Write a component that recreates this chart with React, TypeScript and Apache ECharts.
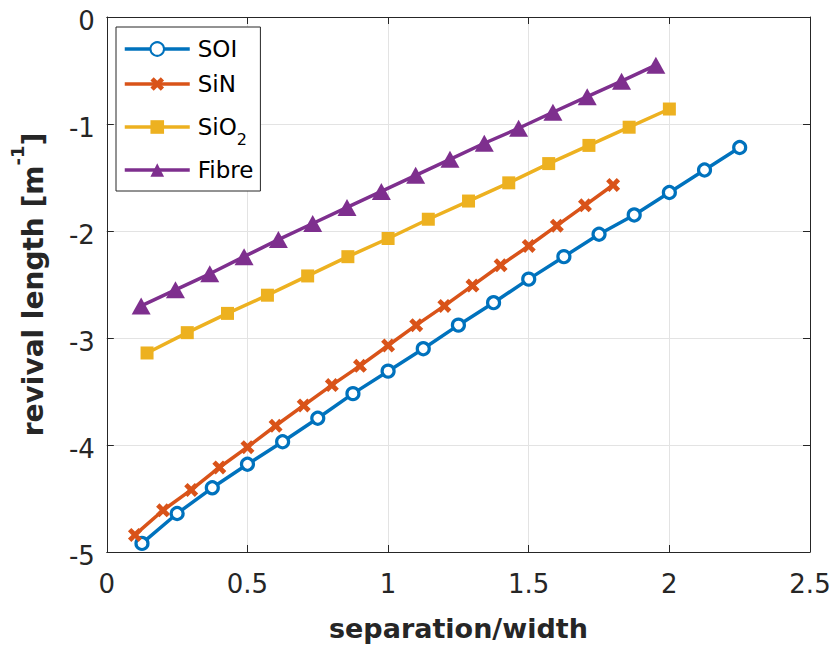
import React, { useEffect, useRef } from 'react';
import * as echarts from 'echarts';

const SOI_X = [0.125, 0.25, 0.375, 0.5, 0.625, 0.75, 0.875, 1.0, 1.125, 1.25, 1.375, 1.5, 1.625, 1.75, 1.875, 2.0, 2.125, 2.25];
const SOI_Y = [-4.92, -4.64, -4.4, -4.18, -3.97, -3.75, -3.52, -3.31, -3.1, -2.88, -2.67, -2.45, -2.24, -2.03, -1.85, -1.64, -1.43, -1.22];

const SIN_X = [0.1, 0.2, 0.3, 0.4, 0.5, 0.6, 0.7, 0.8, 0.9, 1.0, 1.1, 1.2, 1.3, 1.4, 1.5, 1.6, 1.7, 1.8];
const SIN_Y = [-4.84, -4.61, -4.42, -4.21, -4.02, -3.82, -3.63, -3.44, -3.26, -3.07, -2.88, -2.7, -2.51, -2.32, -2.14, -1.95, -1.76, -1.57];

const SIO2_X = [0.143, 0.286, 0.429, 0.571, 0.714, 0.857, 1.0, 1.143, 1.286, 1.429, 1.571, 1.714, 1.857, 2.0];
const SIO2_Y = [-3.14, -2.95, -2.77, -2.6, -2.42, -2.24, -2.07, -1.89, -1.72, -1.55, -1.37, -1.2, -1.03, -0.86];

const FIBRE_X = [0.122, 0.244, 0.366, 0.488, 0.61, 0.732, 0.854, 0.976, 1.098, 1.22, 1.342, 1.464, 1.586, 1.708, 1.83, 1.952];
const FIBRE_Y = [-2.7, -2.55, -2.4, -2.24, -2.08, -1.93, -1.78, -1.63, -1.48, -1.33, -1.18, -1.04, -0.89, -0.745, -0.6, -0.45];

const SERIES_NAMES = ['SOI', 'SiN', 'SiO2', 'Fibre'];
const COLORS = ['#0072BD', '#D95319', '#EDB120', '#7E2F8E'];

const X_TICKS = { min: 0, max: 2.5, interval: 0.5 };
const Y_TICKS = { min: -5, max: 0, interval: 1 };

const FONT = 'DejaVu Sans';
const AXIS_COLOR = '#262626';
const GRID_COLOR = '#e3e3e3';
const CROSS = 'path://M0,2.4L2.4,0L5,2.6L7.6,0L10,2.4L7.4,5L10,7.6L7.6,10L5,7.4L2.4,10L0,7.6L2.6,5Z';

function zip(xs: number[], ys: number[]) {
  return xs.map((x, i) => [x, ys[i]]);
}

export default function App() {
  const ref = useRef<HTMLDivElement>(null);
  useEffect(() => {
    if (!ref.current) return;
    const chart = echarts.init(ref.current, undefined, { renderer: 'svg' });
    const mkX = (primary: boolean) => ({
      type: 'value',
      min: X_TICKS.min,
      max: X_TICKS.max,
      interval: X_TICKS.interval,
      position: primary ? 'bottom' : 'top',
      axisLine: { show: true, onZero: false, lineStyle: { color: AXIS_COLOR, width: 1 } },
      axisTick: { show: true, inside: true, length: 7, lineStyle: { color: AXIS_COLOR } },
      axisLabel: primary
        ? { show: true, fontSize: 26, color: AXIS_COLOR, margin: 19, fontFamily: FONT, formatter: (v: number) => String(v) }
        : { show: false },
      splitLine: primary ? { show: true, lineStyle: { color: GRID_COLOR, width: 1 } } : { show: false },
      name: primary ? 'separation/width' : '',
      nameLocation: 'middle',
      nameGap: 63,
      nameTextStyle: { fontSize: 27, fontWeight: 'bold', color: AXIS_COLOR, fontFamily: FONT },
    });
    const mkY = (primary: boolean) => ({
      type: 'value',
      min: Y_TICKS.min,
      max: Y_TICKS.max,
      interval: Y_TICKS.interval,
      position: primary ? 'left' : 'right',
      axisLine: { show: true, onZero: false, lineStyle: { color: AXIS_COLOR, width: 1 } },
      axisTick: { show: true, inside: true, length: 7, lineStyle: { color: AXIS_COLOR } },
      axisLabel: primary
        ? {
            show: true,
            fontSize: 26,
            color: AXIS_COLOR,
            margin: 12,
            fontFamily: FONT,
            formatter: (v: number) => '{v|' + String(v) + '}',
            rich: {
              v: { fontSize: 26, color: AXIS_COLOR, fontFamily: FONT, lineHeight: 26, padding: [8, 0, 0, 0] },
            },
          }
        : { show: false },
      splitLine: primary ? { show: true, lineStyle: { color: GRID_COLOR, width: 1 } } : { show: false },
      name: primary ? 'revival length [m{sup|-1}]' : '',
      nameLocation: 'middle',
      nameGap: 28,
      nameTextStyle: {
        fontSize: 28,
        fontWeight: 'bold',
        color: AXIS_COLOR,
        fontFamily: FONT,
        lineHeight: 32,
        rich: {
          sup: { fontSize: 18, fontWeight: 'bold', color: AXIS_COLOR, fontFamily: FONT, lineHeight: 18, padding: [0, 0, 32, 0] },
        },
      },
    });

    const datasets = [zip(SOI_X, SOI_Y), zip(SIN_X, SIN_Y), zip(SIO2_X, SIO2_Y), zip(FIBRE_X, FIBRE_Y)];
    const symbols = ['circle', CROSS, 'rect', 'triangle'];
    const sizes: any[] = [12, 14, 13, [19, 17]];
    const itemStyles = [
      { color: '#ffffff', borderColor: COLORS[0], borderWidth: 3.2 },
      { color: COLORS[1], borderWidth: 0 },
      { color: COLORS[2], borderWidth: 0 },
      { color: COLORS[3], borderWidth: 0 },
    ];

    chart.setOption({
      animation: false,
      backgroundColor: '#ffffff',
      textStyle: { fontFamily: FONT },
      grid: { left: 100, right: 25, top: 10, bottom: 95, containLabel: false },
      xAxis: [mkX(true), mkX(false)],
      yAxis: [mkY(true), mkY(false)],
      legend: {
        orient: 'vertical',
        left: 116,
        top: 27,
        padding: [8, 7, 7, 7],
        itemGap: 7,
        itemWidth: 65,
        itemHeight: 17,
        borderColor: AXIS_COLOR,
        borderWidth: 1,
        backgroundColor: '#ffffff',
        data: SERIES_NAMES,
        lineStyle: { width: 3.5 },
        formatter: (name: string) => (name === 'SiO2' ? 'SiO{sub|2}' : name),
        textStyle: {
          fontSize: 23,
          color: '#000000',
          fontFamily: FONT,
          lineHeight: 28,
          padding: [0, 0, 0, 3],
          rich: {
            sub: { fontSize: 16, color: '#000000', fontFamily: FONT, lineHeight: 16, padding: [26, 0, 2, 0] },
          },
        },
      },
      series: SERIES_NAMES.map((name, i) => ({
        name,
        type: 'line',
        xAxisIndex: 0,
        yAxisIndex: 0,
        data: datasets[i],
        symbol: symbols[i],
        symbolSize: sizes[i],
        showAllSymbol: true,
        lineStyle: { color: COLORS[i], width: 3.5 },
        itemStyle: itemStyles[i],
        emphasis: { disabled: true },
        z: 2 + i,
      })),
    });
    return () => chart.dispose();
  }, []);
  return <div ref={ref} style={{ position: 'absolute', left: 0, top: 0, width: 835, height: 647 }} />;
}
